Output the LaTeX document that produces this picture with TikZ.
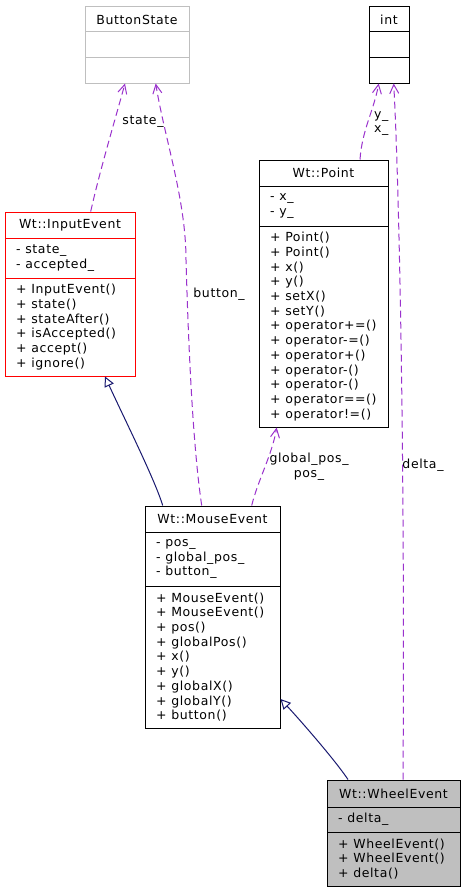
\documentclass[tikz,border=0pt]{standalone}
\usepackage{fontspec}
\newfontfamily\dfont{DejaVu Sans}[LetterSpace=5]
\usetikzlibrary{arrows.meta}
\definecolor{usecol}{HTML}{9A32CD}
\definecolor{inhcol}{HTML}{191970}
\definecolor{boxgray}{HTML}{BFBFBF}
\begin{document}
\begin{tikzpicture}[x=1pt,y=-1pt,
  every node/.style={font=\dfont\fontsize{12.5}{14.7}\selectfont},
  cls/.style={draw=black, line width=1pt, fill=white, inner sep=0pt, rectangle},
  sepline/.style={line width=1pt},
  ttl/.style={inner sep=0pt, anchor=center},
  members/.style={inner sep=0pt, anchor=west, align=left},
  usage/.style={draw=usecol, line width=1pt, dash pattern=on 7pt off 4pt, -{Straight Barb[length=9pt,width=9pt]}},
  inherit/.style={draw=inhcol, line width=1pt, -{Triangle[open,length=10pt,width=10pt,fill=white]}},
  lbl/.style={inner sep=0pt, align=center}]
\fill[white] (0,0) rectangle (472,891);
\useasboundingbox (0,0) rectangle (472,891);

% ButtonState
\node[cls, draw=boxgray, minimum width=104pt, minimum height=76pt] (bs) at (137,45) {};
\draw[sepline, boxgray] (85,32) -- (189,32) (85,58) -- (189,58);
\node[ttl] (bs-t) at (137,19.5) {ButtonState};

% int
\node[cls, minimum width=40pt, minimum height=76pt] (intc) at (389,45) {};
\draw[sepline] (369,32) -- (409,32) (369,58) -- (409,58);
\node[ttl] (intc-t) at (389,19.5) {int};

% Wt::Point
\node[cls, minimum width=129pt, minimum height=267pt] (pt) at (323.5,293.5) {};
\draw[sepline] (259,186) -- (388,186) (259,226) -- (388,226);
\node[ttl] (pt-t) at (323.5,173) {Wt::Point};
\node[members] (pt-a) at (270,206) {- x\_\\- y\_};
\node[members] (pt-m) at (270,326.5) {+ Point()\\+ Point()\\+ x()\\+ y()\\+ setX()\\+ setY()\\+ operator+=()\\+ operator-=()\\+ operator+()\\+ operator-()\\+ operator-()\\+ operator==()\\+ operator!=()};

% Wt::InputEvent
\node[cls, draw=red, minimum width=130pt, minimum height=164pt] (ie) at (70,294) {};
\draw[sepline, red] (5,238) -- (135,238) (5,278) -- (135,278);
\node[ttl] (ie-t) at (70,225) {Wt::InputEvent};
\node[members] (ie-a) at (16,258) {- state\_\\- accepted\_};
\node[members] (ie-m) at (16,327) {+ InputEvent()\\+ state()\\+ stateAfter()\\+ isAccepted()\\+ accept()\\+ ignore()};

% Wt::MouseEvent
\node[cls, minimum width=135pt, minimum height=222pt] (me) at (212.5,617) {};
\draw[sepline] (145,532) -- (280,532) (145,586) -- (280,586);
\node[ttl] (me-t) at (212.5,519) {Wt::MouseEvent};
\node[members] (me-a) at (156,559) {- pos\_\\- global\_pos\_\\- button\_};
\node[members] (me-m) at (156,657) {+ MouseEvent()\\+ MouseEvent()\\+ pos()\\+ globalPos()\\+ x()\\+ y()\\+ globalX()\\+ globalY()\\+ button()};

% Wt::WheelEvent
\node[cls, fill=boxgray, minimum width=133pt, minimum height=106pt] (we) at (393.5,833) {};
\draw[sepline] (327,807) -- (460,807) (327,832) -- (460,832);
\node[ttl] (we-t) at (393.5,793.5) {Wt::WheelEvent};
\node[members] (we-a) at (338,819.5) {- delta\_};
\node[members] (we-m) at (338,859) {+ WheelEvent()\\+ WheelEvent()\\+ delta()};

% usage edges
\draw[usage] ([xshift=20.7pt]ie.north) .. controls (100,170) and (115,120) .. ([xshift=-12pt]bs.south);
\draw[usage] ([xshift=-10.8pt]me.north) .. controls (192,440) and (188,330) .. (186,260) .. controls (186,200) and (165,140) .. ([xshift=18.7pt]bs.south);
\draw[usage] ([xshift=36.5pt]pt.north) .. controls (362,130) and (374,110) .. ([xshift=-10.3pt]intc.south);
\draw[usage] ([xshift=9.5pt]we.north) .. controls (405,500) and (400,200) .. ([xshift=4.7pt]intc.south);
\draw[usage] ([xshift=39.2pt]me.north) .. controls (258,480) and (272,455) .. ([xshift=-46.8pt]pt.south);

% inheritance edges
\draw[inherit] ([xshift=-49.8pt]me.north) .. controls (155,480) and (125,420) .. ([xshift=35pt]ie.south);
\draw[inherit] ([xshift=-45.5pt]we.north) .. controls (335,760) and (300,720) .. ([yshift=-82pt]me.east);

% labels
\node[lbl] (l-state) at (143,122) {state\_};
\node[lbl] (l-button) at (219,294) {button\_};
\node[members] (l-yx) at (374,123.7) {y\_\\x\_};
\node[lbl] (l-pos) at (309,466.5) {global\_pos\_\\pos\_};
\node[lbl] (l-delta) at (423,465) {delta\_};
\end{tikzpicture}
\end{document}
